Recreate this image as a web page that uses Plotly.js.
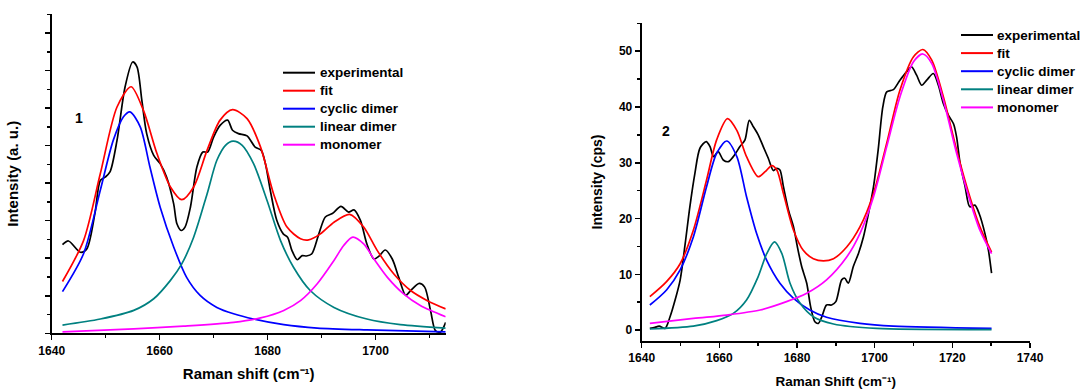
<!DOCTYPE html>
<html><head><meta charset="utf-8">
<script src="https://cdn.plot.ly/plotly-3.0.1.min.js"></script>
<style>html,body{margin:0;padding:0;background:#fff}#chart{width:1086px;height:392px}</style>
</head><body><div id="chart"></div>
<script>
// ---------- Panel 1 (left) ----------
const L_exp_x = [1642.0,1643.1,1645.3,1646.5,1648.0,1649.0,1649.9,1650.8,1652.1,1653.6,1655.0,1655.8,1656.7,1657.6,1658.9,1660.1,1661.3,1662.6,1663.2,1664.0,1664.7,1665.7,1666.9,1668.0,1668.9,1670.0,1671.2,1672.6,1673.5,1674.6,1676.2,1677.7,1678.8,1679.6,1680.5,1681.7,1682.9,1683.7,1684.5,1685.5,1686.4,1687.2,1688.2,1689.5,1690.7,1692.0,1693.6,1695.0,1696.0,1697.2,1698.4,1699.7,1700.6,1701.8,1703.1,1704.3,1705.6,1706.5,1708.1,1709.1,1710.2,1711.1,1712.0,1713.0];
const L_exp_y = [2.36,2.46,2.16,2.25,3.19,4.07,4.16,4.30,5.14,6.57,7.23,7.10,6.21,5.32,4.74,4.52,4.16,3.45,2.92,2.74,2.83,3.36,4.43,4.83,4.83,5.23,5.54,5.68,5.41,5.32,5.26,4.96,4.88,4.52,3.81,3.01,2.65,2.56,2.21,1.96,2.07,2.06,2.12,2.65,3.10,3.19,3.38,3.23,3.29,3.01,2.38,1.98,2.05,2.22,1.98,1.49,1.01,1.14,1.33,1.23,0.60,0.07,0.03,0.29];

const L_fit_x = [1642.0,1645.9,1649.0,1652.1,1654.7,1657.0,1659.5,1662.0,1664.1,1666.3,1668.8,1671.2,1673.5,1676.2,1678.7,1681.1,1683.6,1686.1,1687.6,1689.8,1692.3,1695.2,1697.8,1700.3,1703.4,1706.5,1709.6,1713.0];
const L_fit_y = [1.38,2.47,4.25,6.03,6.57,5.94,4.79,3.90,3.56,3.90,4.88,5.68,5.96,5.72,4.96,3.72,2.83,2.52,2.49,2.65,2.96,3.17,2.83,2.21,1.58,1.14,0.87,0.65];

const L_cyc_x = [1642.0,1645.9,1649.0,1651.4,1653.3,1654.5,1656.4,1658.2,1660.1,1662.6,1665.0,1667.5,1670.6,1673.7,1677.4,1683.0,1689.2,1698.4,1713.0];
const L_cyc_y = [1.11,2.12,3.81,5.14,5.77,5.90,5.50,4.43,3.36,2.30,1.49,1.01,0.69,0.52,0.38,0.23,0.14,0.09,0.04];

const L_lin_x = [1642.0,1649.0,1655.2,1658.9,1662.0,1664.1,1666.3,1668.8,1670.6,1672.2,1673.6,1675.3,1677.4,1679.9,1682.4,1684.8,1687.9,1692.3,1698.4,1704.6,1713.0];
const L_lin_y = [0.22,0.38,0.61,0.92,1.41,1.85,2.56,3.72,4.61,5.01,5.12,5.01,4.52,3.54,2.47,1.76,1.14,0.69,0.38,0.23,0.14];

const L_mon_x = [1642.0,1655.2,1664.4,1673.7,1678.7,1683.0,1686.1,1689.2,1692.3,1694.1,1695.8,1697.8,1699.7,1702.2,1705.2,1708.3,1713.0];
const L_mon_y = [0.04,0.12,0.19,0.29,0.41,0.61,0.87,1.32,1.94,2.34,2.56,2.38,1.98,1.49,1.05,0.74,0.44];

// ---------- Panel 2 (right) ----------
const R_exp_x = [1642.1,1643.4,1644.5,1646.0,1647.3,1648.6,1649.9,1651.2,1652.4,1653.7,1655.0,1656.6,1657.6,1658.5,1659.7,1661.0,1662.3,1663.6,1665.3,1666.6,1667.7,1668.8,1670.0,1671.3,1672.6,1673.9,1674.8,1675.6,1676.5,1677.8,1679.1,1680.1,1681.2,1682.5,1683.5,1684.6,1685.5,1686.4,1687.6,1688.9,1690.0,1691.5,1692.3,1693.2,1694.5,1695.8,1697.1,1698.4,1699.7,1700.9,1702.1,1703.1,1704.8,1706.5,1708.2,1709.5,1710.8,1712.1,1713.4,1715.1,1716.4,1717.7,1719.0,1720.3,1721.1,1722.0,1723.3,1724.5,1725.8,1726.9,1728.4,1729.3,1730.1];
const R_exp_y = [0.3,0.48,0.72,0.3,2.39,5.38,8.96,15.5,22.1,28.1,32.6,33.8,32.9,31.1,32.0,30.5,30.2,31.1,32.9,34.1,37.6,36.4,35.0,32.9,30.8,28.6,29.0,28.7,25.7,21.5,18.5,14.9,11.4,8.4,4.2,1.5,1.2,2.4,4.5,4.5,5.1,9.0,9.3,8.4,11.4,13.7,16.7,20.9,25.7,32.3,40.0,42.7,43.1,44.8,46.3,47.2,45.7,43.9,44.8,46.0,43.9,40.6,38.5,37.0,34.6,29.9,25.7,22.1,22.4,20.9,17.3,14.3,10.2];

const R_fit_x = [1642.1,1646.4,1649.9,1653.3,1656.7,1659.3,1662.1,1664.5,1667.0,1670.0,1671.8,1673.5,1674.8,1676.5,1679.1,1681.6,1684.2,1686.8,1689.4,1692.8,1696.2,1699.7,1703.1,1706.5,1710.0,1712.4,1714.7,1717.7,1721.1,1724.5,1727.1,1730.1];
const R_fit_y = [6.0,8.7,11.9,17.9,26.9,34.1,37.9,35.8,31.1,27.5,28.4,29.5,28.7,24.5,17.9,14.3,12.8,12.4,12.8,14.9,18.5,24.5,33.5,43.0,49.0,50.3,48.4,41.8,32.3,23.9,18.5,14.0];

const R_cyc_x = [1642.1,1646.4,1649.9,1653.3,1656.7,1659.3,1661.9,1664.5,1667.0,1669.6,1672.2,1675.6,1679.1,1683.3,1687.6,1696.2,1704.8,1730.1];
const R_cyc_y = [4.5,7.2,10.8,16.7,25.7,31.7,33.9,31.1,23.9,17.3,12.5,8.4,5.7,3.6,2.3,1.2,0.7,0.3];

const R_lin_x = [1642.1,1653.3,1659.3,1663.6,1667.0,1670.0,1672.2,1674.2,1676.1,1678.2,1680.8,1684.2,1689.4,1700.5,1730.1];
const R_lin_y = [0.2,0.7,1.7,3.0,5.4,9.6,13.7,15.8,13.7,8.4,4.8,2.4,1.1,0.3,0.1];

const R_mon_x = [1642.1,1653.3,1661.9,1670.5,1677.3,1682.5,1687.6,1692.8,1696.2,1699.7,1703.1,1706.5,1710.0,1712.4,1714.7,1717.7,1721.1,1724.5,1727.1,1730.1];
const R_mon_y = [1.2,2.1,2.7,3.6,5.1,6.6,9.0,13.1,17.3,23.9,32.9,41.8,48.1,49.5,47.8,41.2,31.7,23.3,17.9,13.7];

const names = ['experimental','fit','cyclic dimer','linear dimer','monomer'];
const colors = ['#000000','#FF0000','#0000FF','#008080','#FF00FF'];

const FONT = 'Arial, "Liberation Sans", sans-serif';
const W = 1086, H = 392;
const px = x => x / W;
const py = y => 1 - y / H;

function tr(x, y, i, xa, ya) {
  return {x: x, y: y, type: 'scatter', mode: 'lines', name: names[i],
    xaxis: xa, yaxis: ya, showlegend: false,
    line: {color: colors[i], width: 1.7, shape: 'spline', smoothing: 0.8},
    hoverinfo: 'skip'};
}

const data = [
  tr(L_exp_x, L_exp_y, 0, 'x', 'y'),
  tr(L_fit_x, L_fit_y, 1, 'x', 'y'),
  tr(L_cyc_x, L_cyc_y, 2, 'x', 'y'),
  tr(L_lin_x, L_lin_y, 3, 'x', 'y'),
  tr(L_mon_x, L_mon_y, 4, 'x', 'y'),
  tr(R_exp_x, R_exp_y, 0, 'x2', 'y2'),
  tr(R_fit_x, R_fit_y, 1, 'x2', 'y2'),
  tr(R_cyc_x, R_cyc_y, 2, 'x2', 'y2'),
  tr(R_lin_x, R_lin_y, 3, 'x2', 'y2'),
  tr(R_mon_x, R_mon_y, 4, 'x2', 'y2')
];

const tickfont = {family: FONT, size: 12, color: '#000', weight: 'bold'};
const axBase = {showline: true, linecolor: '#000', linewidth: 2, showgrid: false, zeroline: false,
  ticks: 'outside', ticklen: 5, tickwidth: 1.5, tickcolor: '#000', tickfont: tickfont, fixedrange: true};
const minorT = (d, t0) => ({dtick: d, tick0: t0, ticks: 'outside', ticklen: 3, tickwidth: 1.5, tickcolor: '#000'});
const tfont = s => ({family: FONT, size: s, color: '#000', weight: 'bold'});

// hand-built legends (line sample + label), one per panel
const shapes = [], annotations = [];
function legendBlock(x0, x1, tx, y0, dy) {
  names.forEach((n, i) => {
    const y = py(y0 + dy * i);
    shapes.push({type: 'line', xref: 'paper', yref: 'paper', x0: px(x0), x1: px(x1), y0: y, y1: y,
      line: {color: colors[i], width: 2}});
    annotations.push({text: n, xref: 'paper', yref: 'paper', x: px(tx), y: y, xanchor: 'left', yanchor: 'middle',
      showarrow: false, font: tfont(13.5)});
  });
}
legendBlock(283, 315, 318, 72.7, 18);
legendBlock(961, 993, 995, 35, 18.1);

annotations.push(
  {text: '1', xref: 'paper', yref: 'paper', x: px(79), y: py(118), xanchor: 'center', yanchor: 'middle',
    showarrow: false, font: tfont(14)},
  {text: '2', xref: 'paper', yref: 'paper', x: px(665.7), y: py(131), xanchor: 'center', yanchor: 'middle',
    showarrow: false, font: tfont(14)}
);

const layout = {
  width: W, height: H,
  margin: {l: 0, r: 0, t: 0, b: 0},
  paper_bgcolor: '#fff', plot_bgcolor: 'rgba(0,0,0,0)',
  showlegend: false,
  xaxis: Object.assign({}, axBase, {domain: [px(51.7), px(445.7)], range: [1640, 1713], anchor: 'y',
    tickvals: [1640, 1660, 1680, 1700], minor: minorT(10, 1640),
    title: {text: 'Raman shift (cm\u207B\u00B9)', font: tfont(15), standoff: 12}}),
  yaxis: Object.assign({}, axBase, {domain: [py(333.3), py(14.3)], range: [0, 8.5], anchor: 'x',
    dtick: 1, tick0: 0, showticklabels: false, minor: minorT(0.5, 0),
    title: {text: 'Intensity (a. u.)', font: tfont(15), standoff: 22}}),
  xaxis2: Object.assign({}, axBase, {domain: [px(641.7), px(1030)], range: [1640, 1740], anchor: 'y2',
    dtick: 20, tick0: 1640, minor: minorT(10, 1640),
    title: {text: 'Raman Shift (cm\u207B\u00B9)', font: tfont(13.5), standoff: 12}}),
  yaxis2: Object.assign({}, axBase, {domain: [py(340.7), py(23.3)], range: [-1.9, 55], anchor: 'x2',
    dtick: 10, tick0: 0, minor: minorT(5, 0),
    title: {text: 'Intensity (cps)', font: tfont(14), standoff: 13}}),
  shapes: shapes,
  annotations: annotations
};

Plotly.newPlot('chart', data, layout, {staticPlot: true, displayModeBar: false});
</script>
</body></html>
